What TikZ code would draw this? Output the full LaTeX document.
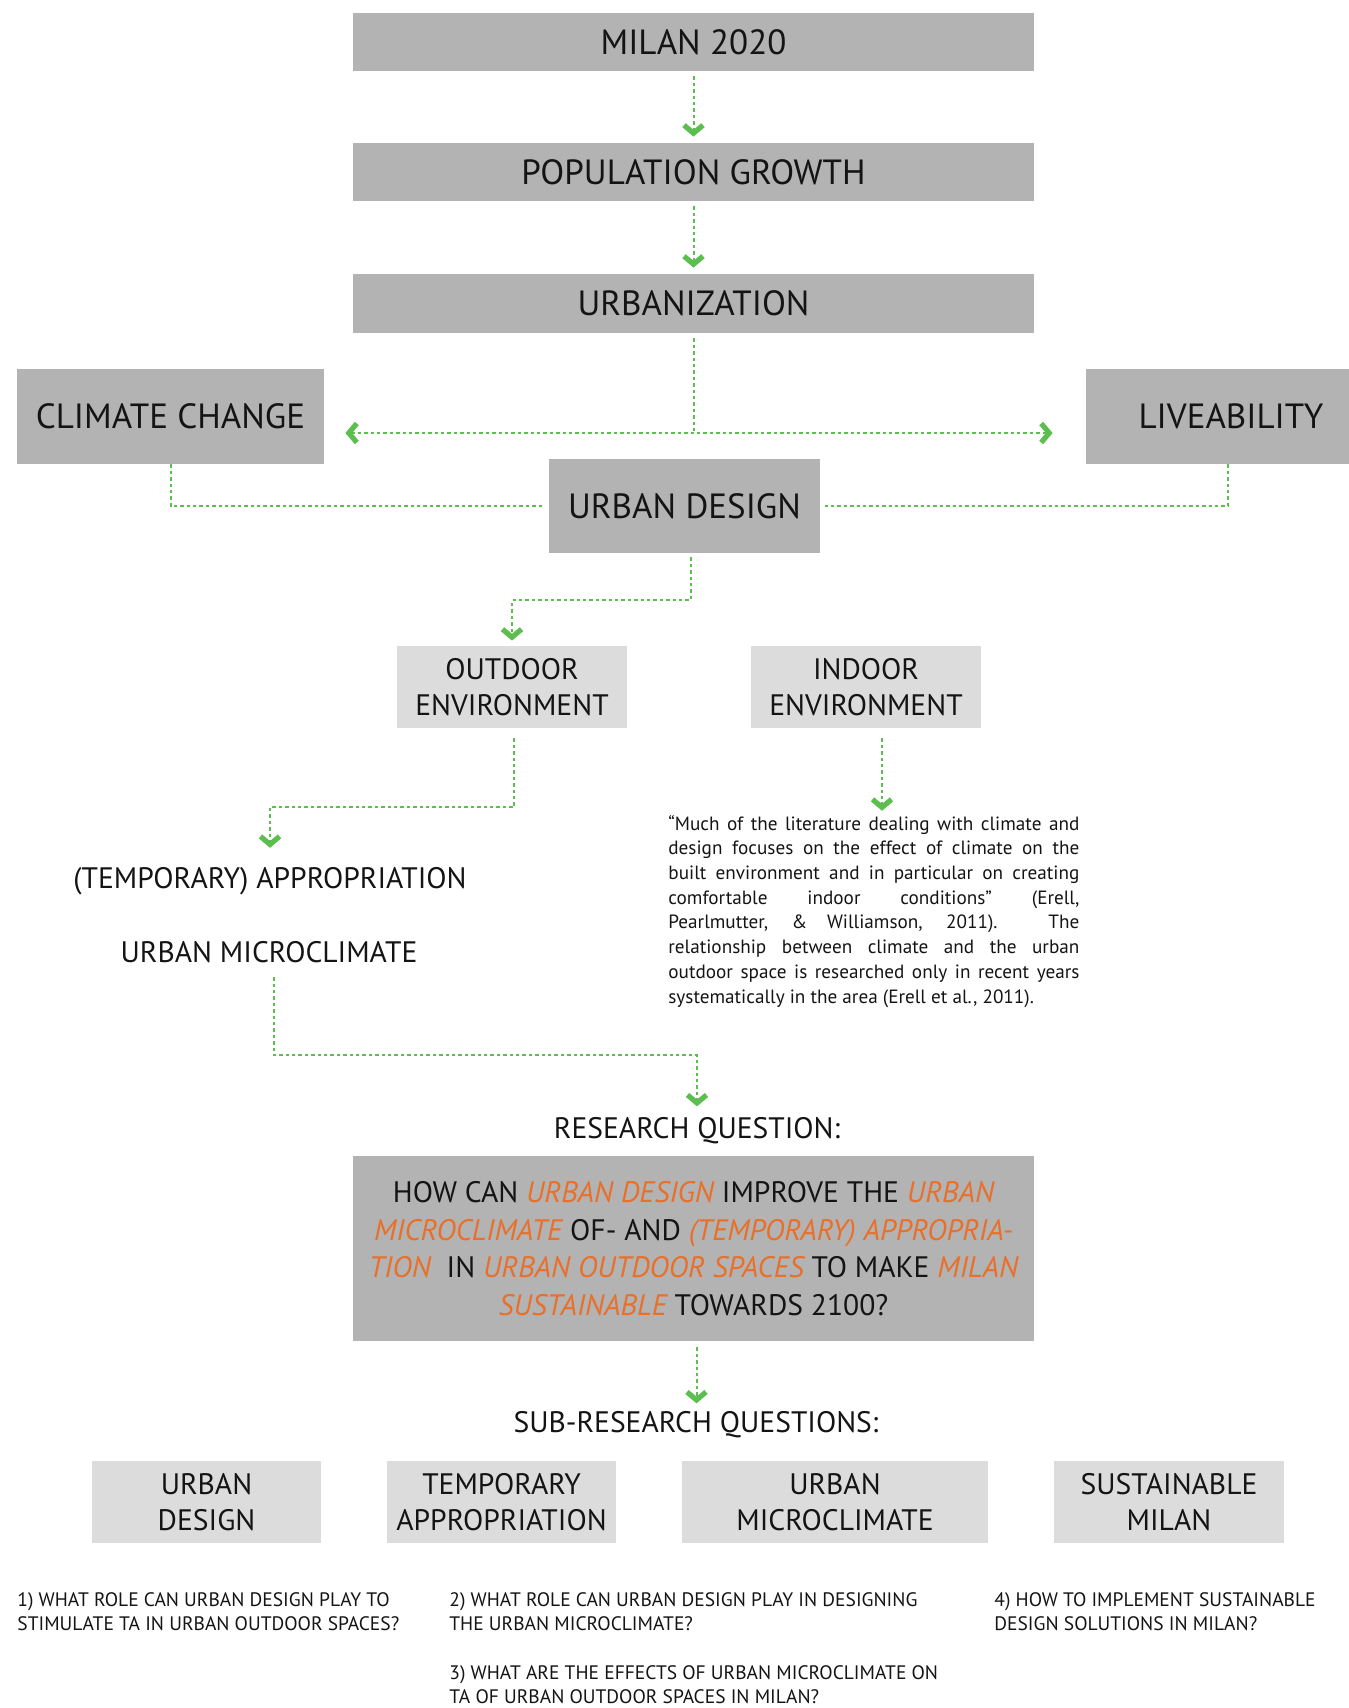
\documentclass[tikz,border=0pt]{standalone}
\usepackage{fontspec}
\setmainfont{PT Sans}
\usetikzlibrary{arrows.meta,calc}
\definecolor{boxdark}{HTML}{B3B3B3}
\definecolor{boxlight}{HTML}{DCDCDC}
\definecolor{lgreen}{HTML}{5CBE4F}
\definecolor{rqorange}{HTML}{E8702A}
\definecolor{ink}{HTML}{141414}
\newcommand{\oi}[1]{\textcolor{rqorange}{\itshape #1}}
\newcommand{\jl}[1]{\makebox[205.5pt][s]{#1}}
\begin{document}
\begin{tikzpicture}[x=0.5pt,y=-0.5pt,
  bigbox/.style={fill=boxdark, text=ink, inner sep=0pt, align=center, font=\fontsize{17.5}{20}\selectfont},
  smallbox/.style={fill=boxlight, text=ink, inner sep=0pt, align=center, font=\fontsize{14.8}{18}\selectfont},
  label/.style={text=ink, inner sep=0pt, align=center, font=\fontsize{14.8}{18}\selectfont},
  qtext/.style={text=ink, inner sep=0pt, align=left, font=\fontsize{9.75}{11.75}\selectfont},
  quotetext/.style={text=ink, inner sep=0pt, align=left, font=\fontsize{9.6}{12.35}\selectfont},
  conn/.style={draw=lgreen, line width=1pt, dash pattern=on 1.7pt off 1.5pt},
  tip/.tip={Straight Barb[length=4pt,width=9.5pt,line width=2.6pt]},
  arr/.style={conn, -tip},
]
\useasboundingbox (0,0) rectangle (1349,1708);

% top chain
\node[bigbox, minimum width=340.5pt, minimum height=29pt] (milan) at (693.5,42) {MILAN 2020};
\node[bigbox, minimum width=340.5pt, minimum height=29pt] (pop) at (693.5,172) {POPULATION GROWTH};
\node[bigbox, minimum width=340.5pt, minimum height=29.5pt] (urb) at (693.5,303.5) {URBANIZATION};
\node[bigbox, minimum width=153.5pt, minimum height=47.5pt] (climate) at (170.5,416.5) {CLIMATE CHANGE};
\node[bigbox, minimum width=145pt, minimum height=47.5pt] (live) at (1231,416.5) {LIVEABILITY};
\node[bigbox, minimum width=135.5pt, minimum height=47pt] (udesign) at (684.5,506) {URBAN DESIGN};

\node[smallbox, minimum width=115pt, minimum height=41pt] (outdoor) at (512,687) {OUTDOOR\\ENVIRONMENT};
\node[smallbox, minimum width=115pt, minimum height=41pt] (indoor) at (866,687) {INDOOR\\ENVIRONMENT};

\node[label] (tempapp) at (270,881) {(TEMPORARY) APPROPRIATION};
\node[label] (umicro) at (269,952) {URBAN MICROCLIMATE};

\node[quotetext, anchor=base west] (quote) at (668,1003) {%
\jl{“Much of the literature dealing with climate and}\\
\jl{design focuses on the effect of climate on the}\\
\jl{built environment and in particular on creating}\\
\jl{comfortable indoor conditions” (Erell,}\\
\jl{Pearlmutter, \& Williamson, 2011). The}\\
\jl{relationship between climate and the urban}\\
\jl{outdoor space is researched only in recent years}\\
systematically in the area (Erell et al., 2011).};

\node[label] (rqlabel) at (697,1131) {RESEARCH QUESTION:};
\node[fill=boxdark, text=ink, inner sep=0pt, align=center, font=\fontsize{14.8}{18.75}\selectfont,
      minimum width=340.5pt, minimum height=92.5pt] (rq) at (693.5,1248.5) {%
HOW CAN \oi{URBAN DESIGN} IMPROVE THE \oi{URBAN}\\
\oi{MICROCLIMATE} OF- AND \oi{(TEMPORARY) APPROPRIA-}\\
\oi{TION} \ IN \oi{URBAN OUTDOOR SPACES} TO MAKE \oi{MILAN}\\
\oi{SUSTAINABLE} TOWARDS 2100?};

\node[label] (subrq) at (696,1425) {SUB-RESEARCH QUESTIONS:};

\node[smallbox, minimum width=114.5pt, minimum height=41pt] (sb1) at (206.5,1502) {URBAN\\DESIGN};
\node[smallbox, minimum width=114.5pt, minimum height=41pt] (sb2) at (501.5,1502) {TEMPORARY\\APPROPRIATION};
\node[smallbox, minimum width=153pt, minimum height=41pt] (sb3) at (835,1502) {URBAN\\MICROCLIMATE};
\node[smallbox, minimum width=115pt, minimum height=41pt] (sb4) at (1169,1502) {SUSTAINABLE\\MILAN};

\node[qtext, anchor=base west] (q1) at (17,1630) {1) WHAT ROLE CAN URBAN DESIGN PLAY TO\\STIMULATE TA IN URBAN OUTDOOR SPACES?};
\node[qtext, anchor=base west] (q2) at (449,1630) {2) WHAT ROLE CAN URBAN DESIGN PLAY IN DESIGNING\\THE URBAN MICROCLIMATE?};
\node[qtext, anchor=base west] (q3) at (449,1703) {3) WHAT ARE THE EFFECTS OF URBAN MICROCLIMATE ON\\TA OF URBAN OUTDOOR SPACES IN MILAN?};
\node[qtext, anchor=base west] (q4) at (994,1630) {4) HOW TO IMPLEMENT SUSTAINABLE\\DESIGN SOLUTIONS IN MILAN?};

% connectors
\draw[arr, shorten <=2.5pt, shorten >=3pt] (milan.south) -- (pop.north);
\draw[arr, shorten <=2.5pt, shorten >=3pt] (pop.south) -- (urb.north);
\coordinate (j) at (693.5,433);
\draw[conn, shorten <=2.5pt] (urb.south) -- (j);
\draw[conn, tip-tip, shorten <=10.5pt, shorten >=16.5pt] (climate.east |- j) -- (live.west |- j);
\draw[conn, shorten >=2.5pt] (climate.south) |- (udesign.west);
\draw[conn, shorten >=2pt] ([xshift=-1.5pt]live.south) |- (udesign.east);
\draw[arr, shorten <=2pt, shorten >=2.5pt] ([xshift=3pt]udesign.south) -- ++(0,47) -| (outdoor.north);
\draw[arr, shorten <=5pt, shorten >=9.5pt] ([xshift=1pt]outdoor.south) -- ++(0,79) -| (tempapp.north);
\draw[arr, shorten <=5pt, shorten >=2pt] ([xshift=8pt]indoor.south) -- ([xshift=8pt]indoor.south |- quote.north);
\draw[arr, shorten <=7pt, shorten >=5.5pt] ([xshift=2.5pt]umicro.south) -- ++(0,92) -| (rqlabel.north);
\draw[arr, shorten <=3pt, shorten >=4pt] ([xshift=1.5pt]rq.south) -- ([xshift=1.5pt]rq.south |- subrq.north);
\end{tikzpicture}
\end{document}
